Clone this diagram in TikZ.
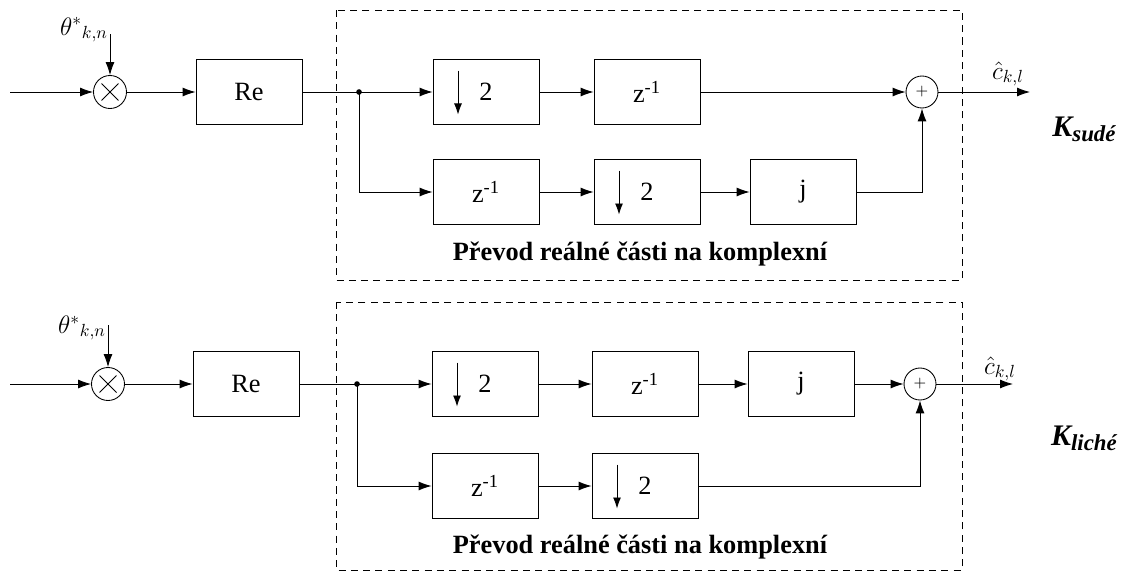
\documentclass[tikz,border=0pt]{standalone}
\usepackage{fontspec}
\setmainfont{Liberation Serif}
\usetikzlibrary{arrows.meta}

\tikzset{
  blok/.style={draw, minimum width=2.12cm, minimum height=1.3cm,
    font=\fontsize{15}{17}\selectfont},
  % decimator: a down arrow on the left, the factor in the middle
  decim/.style={blok, path picture={
    \draw[-{Latex[length=2.2mm,width=1.6mm]}]
      ([xshift=-0.56cm,yshift=-0.22cm]path picture bounding box.north) --
      ([xshift=-0.56cm,yshift=0.2cm]path picture bounding box.south);}},
  nasob/.style={draw, circle, minimum size=0.66cm, inner sep=0pt,
    path picture={
      \draw ([shift={(-0.17cm,-0.17cm)}]path picture bounding box.center) -- ++(0.34cm,0.34cm);
      \draw ([shift={(-0.17cm,0.17cm)}]path picture bounding box.center) -- ++(0.34cm,-0.34cm);}},
  scit/.style={draw, circle, minimum size=0.64cm, inner sep=0pt, font=\small},
  sip/.style={-{Latex[length=2.6mm,width=1.8mm]}},
  ramec/.style={draw, dash pattern=on 4pt off 3pt},
  popis/.style={font=\fontsize{15}{17}\selectfont\bfseries},
  vetev/.style={font=\fontsize{17}{19}\selectfont\bfseries\itshape},
  znacka/.style={font=\fontsize{14}{16}\selectfont},
}
\newcommand{\vetevsub}[1]{\raisebox{-0.35ex}{\fontsize{13}{15}\selectfont #1}}

\begin{document}
\begin{tikzpicture}[x=0.02cm, y=0.02cm, line width=0.5pt]
  \useasboundingbox (0,0) rectangle (1130,583);

  % ---- sude k ----
  \draw[ramec] (336,573) rectangle (962,303);
  \coordinate (in1) at (10,491);
  \node[nasob] (m1) at (110,491) {};
  \coordinate (t1) at (110,549);
  \node[znacka] (th1) at (84,553) {$\theta^{*}{}_{k,n}$};
  \node[blok] (re1) at (249,491) {Re};
  \coordinate (u1) at (359,491);
  \node[decim] (d1) at (486,491) {2};
  \node[blok] (z1) at (647,491) {z\textsuperscript{-1}};
  \node[scit] (s1) at (922,491) {$+$};
  \coordinate (o1) at (1030,491);
  \node[znacka] (c1) at (1008,509) {$\hat{c}_{k,l}$};
  \node[blok] (z2) at (486,391) {z\textsuperscript{-1}};
  \node[decim] (d2) at (647,391) {2};
  \node[blok] (j1) at (803,391) {j};
  \node[popis] (p1) at (640,329) {Převod reálné části na komplexní};
  \node[vetev] (k1) at (1084,454) {K\vetevsub{sudé}};

  \draw[sip] (in1) -- (m1);
  \draw[sip] (t1) -- (m1);
  \draw[sip] (m1) -- (re1);
  \draw (re1) -- (u1);
  \fill (u1) circle (1.6pt);
  \draw[sip] (u1) -- (d1);
  \draw[sip] (d1) -- (z1);
  \draw[sip] (z1) -- (s1);
  \draw[sip] (s1) -- (o1);
  \draw[sip] (u1) |- (z2);
  \draw[sip] (z2) -- (d2);
  \draw[sip] (d2) -- (j1);
  \draw[sip] (j1) -| (s1);

  % ---- liche k ----
  \draw[ramec] (336,281) rectangle (962,13);
  \coordinate (in2) at (10,199);
  \node[nasob] (m2) at (108,199) {};
  \coordinate (t2) at (108,258);
  \node[znacka] (th2) at (82,255) {$\theta^{*}{}_{k,n}$};
  \node[blok] (re2) at (246,199) {Re};
  \coordinate (u2) at (357,199);
  \node[decim] (d3) at (485,199) {2};
  \node[blok] (z3) at (645,199) {z\textsuperscript{-1}};
  \node[blok] (j2) at (801,199) {j};
  \node[scit] (s2) at (920,199) {$+$};
  \coordinate (o2) at (1013,199);
  \node[znacka] (c2) at (1000,214) {$\hat{c}_{k,l}$};
  \node[blok] (z4) at (485,97) {z\textsuperscript{-1}};
  \node[decim] (d4) at (645,97) {2};
  \node[popis] (p2) at (640,36) {Převod reálné části na komplexní};
  \node[vetev] (k2) at (1084,145) {K\vetevsub{liché}};

  \draw[sip] (in2) -- (m2);
  \draw[sip] (t2) -- (m2);
  \draw[sip] (m2) -- (re2);
  \draw (re2) -- (u2);
  \fill (u2) circle (1.6pt);
  \draw[sip] (u2) -- (d3);
  \draw[sip] (d3) -- (z3);
  \draw[sip] (z3) -- (j2);
  \draw[sip] (j2) -- (s2);
  \draw[sip] (s2) -- (o2);
  \draw[sip] (u2) |- (z4);
  \draw[sip] (z4) -- (d4);
  \draw[sip] (d4) -| (s2);
\end{tikzpicture}
\end{document}
